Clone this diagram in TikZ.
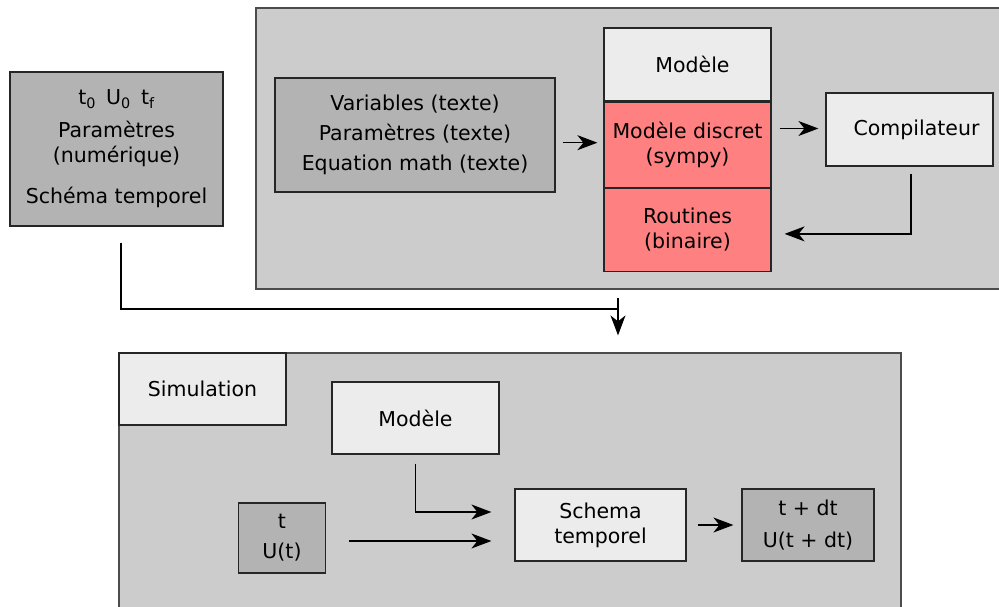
\documentclass[tikz,border=0pt]{standalone}
\usepackage{fontspec}
\setmainfont{DejaVu Sans}
\usetikzlibrary{arrows.meta,positioning}

\definecolor{grisfonce}{HTML}{B3B3B3}
\definecolor{grispanneau}{HTML}{CCCCCC}
\definecolor{grisclair}{HTML}{ECECEC}
\definecolor{rouge}{HTML}{FF8080}

\tikzset{
  bloc/.style={draw=black!85, line width=1.2pt, rectangle, inner sep=0pt, align=center},
  panneau/.style={bloc, draw=black!70, fill=grispanneau},
  donnee/.style={bloc, fill=grisfonce},
  etape/.style={bloc, fill=grisclair},
  discret/.style={bloc, fill=rouge},
  fleche/.style={-{Stealth[length=20pt,width=15pt,inset=6pt]}, line width=1.2pt, draw=black}
}

\begin{document}
\begin{tikzpicture}[x=1pt,y=-1pt,font=\fontsize{20.5}{25}\selectfont]
  \useasboundingbox (0,0) rectangle (999,607);
  \clip (0,0) rectangle (999,607);

  % panneaux de fond
  \node[panneau, minimum width=760, minimum height=281] (generation) at (636,148.5) {};
  \node[panneau, minimum width=782, minimum height=267] (simulation) at (510,486.5) {};

  % entrees
  \node[donnee, minimum width=213, minimum height=154] (params) at (116.5,149)
    {\rule{0pt}{7pt}t\textsubscript{0}\enspace U\textsubscript{0}\enspace t\textsubscript{f}\\[8pt]
     Paramètres\\(numérique)\\[16pt]Schéma temporel};

  % generation du modele
  \node[donnee, minimum width=280, minimum height=114] (variables) at (415,135)
    {Variables (texte)\\[5pt]Paramètres (texte)\\[5pt]Equation math (texte)};
  \node[etape, minimum width=167, minimum height=73] (modele) at (687.5,64.5) {\hspace{10pt}Modèle};
  \node[discret, minimum width=167, minimum height=85, below=0pt of modele] (modeledisc)
    {Modèle discret\\(sympy)};
  \node[discret, minimum width=167, minimum height=83, below=0pt of modeledisc] (routines)
    {Routines\\(binaire)};
  \node[etape, minimum width=167, minimum height=73] (compil) at (909.5,129.5) {\hspace{14pt}Compilateur};

  \draw[fleche, shorten <=7pt, shorten >=6pt] ([yshift=2pt]variables.east |- modeledisc.west) -- ([yshift=2pt]modeledisc.west);
  \draw[fleche, shorten <=8pt, shorten >=7pt] ([yshift=1pt]modeledisc.east |- compil.west) -- ([yshift=1pt]compil.west);
  \draw[fleche, shorten <=7pt, shorten >=13pt] ([xshift=1.5pt]compil.south) |- ([yshift=-4pt]routines.east);

  % simulation
  \node[etape, minimum width=167, minimum height=72, anchor=north west] (onglet) at (simulation.north west) {Simulation};
  \node[etape, minimum width=167, minimum height=72] (modele2) at (415.5,418) {Modèle};
  \node[donnee, minimum width=87, minimum height=70] (etat) at (282,538) {t\\[5pt]U(t)};
  \node[etape, minimum width=171, minimum height=72] (schema) at (600.5,525) {Schema\\temporel};
  \node[donnee, minimum width=132, minimum height=72] (suivant) at (808,525) {t + dt\\[7pt]U(t + dt)};

  \coordinate (jonction) at (618,309);
  \draw[line width=1.2pt, draw=black, shorten <=16pt] ([xshift=4.5pt]params.south) |- (jonction);
  \draw[fleche, shorten >=17pt] ([yshift=11pt]jonction) -- (jonction |- simulation.north);

  \draw[fleche, shorten <=9pt, shorten >=23pt] (modele2.south) |- ([yshift=13pt]schema.west);
  \draw[fleche, shorten <=23pt, shorten >=23pt] ([yshift=-3pt]etat.east) -- ([yshift=-3pt]etat.east -| schema.west);
  \draw[fleche, shorten <=11pt, shorten >=8pt] (schema.east) -- (suivant.west);
\end{tikzpicture}
\end{document}
